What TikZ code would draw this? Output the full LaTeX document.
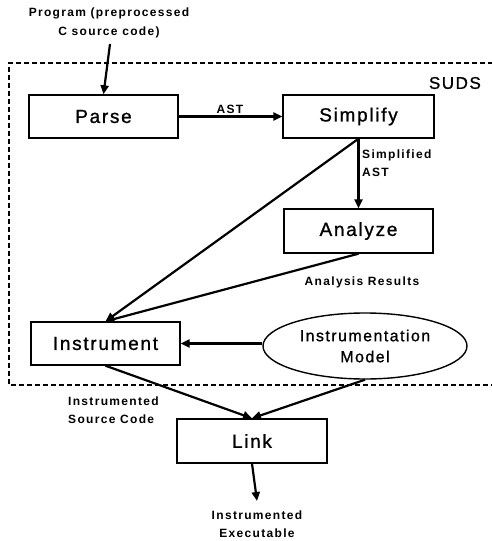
\documentclass[tikz,border=0pt]{standalone}
\usepackage{fontspec}
\setmainfont{Liberation Sans}
\newfontfamily\boxfont[LetterSpace=9,FakeBold=1]{Liberation Sans}
\newfontfamily\smallfont[LetterSpace=11]{Liberation Sans Bold}
\usetikzlibrary{arrows.meta,shapes.geometric}
\begin{document}
\begin{tikzpicture}[x=1pt,y=-1pt,
  stepbox/.style={draw,line width=1.4pt,minimum width=149pt,minimum height=43pt,inner sep=0pt,font=\boxfont\fontsize{19}{22}\selectfont},
  ellbox/.style={draw,ellipse,line width=1.4pt,minimum width=204pt,minimum height=66pt,inner sep=0pt,align=center,font=\boxfont\fontsize{16}{21}\selectfont},
  lab/.style={inner sep=0pt,font=\smallfont\fontsize{12}{18.5}\selectfont},
  flow/.style={line width=2.2pt,-{Triangle[length=9pt,width=8pt]}},
  suds/.style={line width=1.4pt,dash pattern=on 5pt off 3pt}]
\useasboundingbox (0,0) rectangle (492,541);
\draw[suds] (493,63) -- (9,63) -- (9,385) -- (493,385);
\node[inner sep=0pt,anchor=east,font=\boxfont\fontsize{17}{18}\selectfont] (sudslab) at (481,83) {SUDS};
\node[stepbox] (parse) at (103.5,116.5) {Parse};
\node[stepbox,minimum width=151pt] (simp) at (358.5,116.5) {Simplify};
\node[stepbox,minimum height=44pt] (anal) at (358.5,231) {Analyze};
\node[stepbox] (instr) at (105.5,343.5) {Instrument};
\node[stepbox,minimum width=150pt,minimum height=44pt] (link) at (252,441) {Link};
\node[ellbox] (model) at (365,346) {Instrumentation\\Model};
\node[lab,align=center] (prog) at (109,23) {Program (preprocessed\\C source code)};
\coordinate (progend) at (110,44);
\node[lab] (astlab) at (230,109.5) {AST};
\node[lab,align=left,anchor=west] (simplab) at (362,163) {Simplified\\AST};
\node[lab] (reslab) at (362,282) {Analysis Results};
\node[lab,align=left,anchor=west] (srclab) at (68,410) {Instrumented\\Source Code};
\node[lab,align=center] (exelab) at (257,524) {Instrumented\\Executable};
\coordinate (exeend) at (257,501);
\draw[flow] (progend) -- (parse.north);
\draw[flow] (parse) -- (simp);
\draw[flow] (simp.south) -- (anal.north);
\draw[flow] (simp.south) -- (instr.north);
\draw[flow] (anal.south) -- (instr.north);
\draw[flow] (instr.east -| model.west) -- (instr.east);
\draw[flow] (instr.south) -- (link.north);
\draw[flow] (model.south) -- (link.north);
\draw[flow] (link.south) -- (exeend);
\end{tikzpicture}
\end{document}
